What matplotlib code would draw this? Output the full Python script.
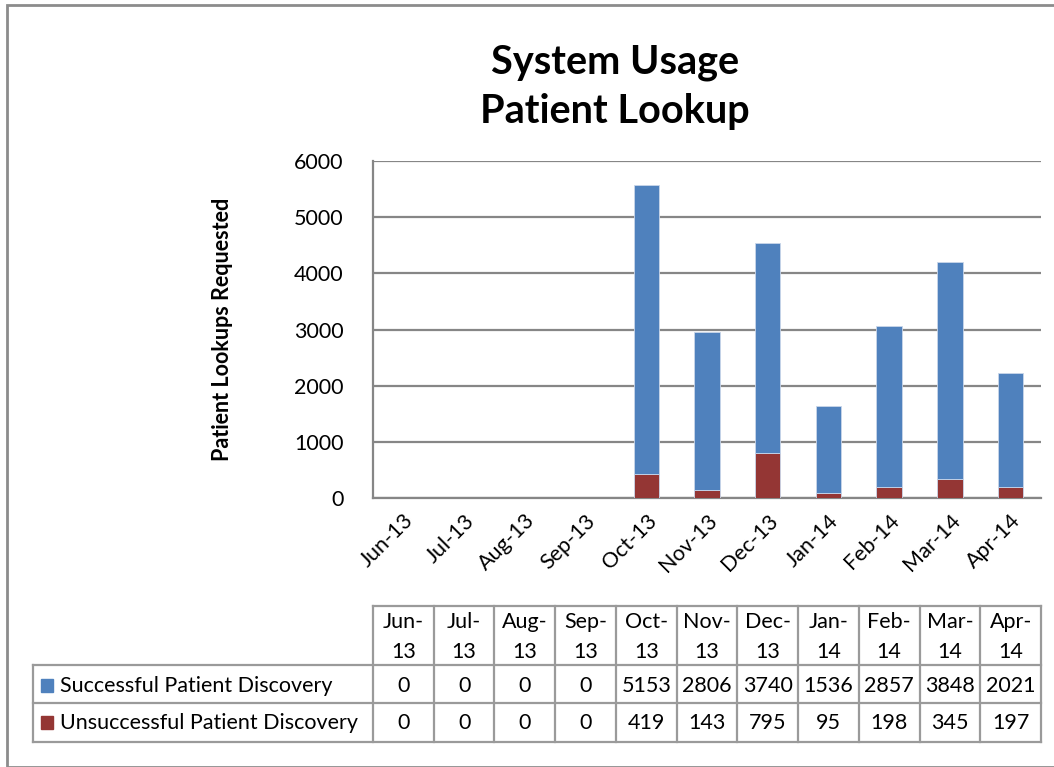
import numpy as np
import matplotlib
matplotlib.use("Agg")
import matplotlib.pyplot as plt
from matplotlib.patches import Rectangle
from matplotlib.lines import Line2D

plt.rcParams['font.family'] = ['Lato', 'DejaVu Sans']

months = ["Jun-13", "Jul-13", "Aug-13", "Sep-13", "Oct-13", "Nov-13",
          "Dec-13", "Jan-14", "Feb-14", "Mar-14", "Apr-14"]
successful = [0, 0, 0, 0, 5153, 2806, 3740, 1536, 2857, 3848, 2021]
unsuccessful = [0, 0, 0, 0, 419, 143, 795, 95, 198, 345, 197]
series_names = ["Successful Patient Discovery", "Unsuccessful Patient Discovery"]

blue = "#4F81BD"
red = "#943634"
grid = "#868686"

W, H = 1054, 767
fig = plt.figure(figsize=(W / 100, H / 100), dpi=100)

# outer chart frame
fig.patches.append(Rectangle((7 / W, 0), 1.2, 1 - 5 / H, transform=fig.transFigure,
                             fill=False, edgecolor="#8c8c8c", lw=2))

L, R, B, T = 373, 1041, 498, 161
ax = fig.add_axes([L / W, 1 - B / H, (R - L) / W, (B - T) / H])
x = np.arange(len(months))
ax.bar(x, unsuccessful, width=0.42, color=red, edgecolor="#c9d6ea", lw=0.6, zorder=3)
ax.bar(x, successful, width=0.42, bottom=unsuccessful, color=blue,
       edgecolor="#c9d6ea", lw=0.6, zorder=3)
ax.set_xlim(-0.5, len(months) - 0.5)
ax.set_ylim(0, 6000)
ax.set_yticks(range(0, 6001, 1000))
ax.yaxis.grid(True, color=grid, lw=1.6)
ax.set_axisbelow(True)
for s in ["top", "right"]:
    ax.spines[s].set_visible(False)
for s in ["left", "bottom"]:
    ax.spines[s].set_color(grid)
    ax.spines[s].set_linewidth(1.6)
ax.tick_params(length=0, labelsize=15.5, pad=21)
ax.tick_params(axis="x", pad=9)
ax.set_xticks(x)
ax.set_xticklabels(months, rotation=45, ha="right", rotation_mode="anchor")
ax.set_ylabel("Patient Lookups Requested", fontsize=15.5, fontweight="bold", labelpad=44)

fig.text(615 / W, 1 - 87 / H, "System Usage\nPatient Lookup", ha="center", va="center",
         fontsize=28.5, fontweight="bold", linespacing=1.4)

# data table under the chart, pixel coordinates
tab = fig.add_axes([0, 0, 1, 1], facecolor="none")
tab.set_xlim(0, W)
tab.set_ylim(H, 0)
tab.axis("off")
colw = (R - L) / len(months)
edges = [L + i * colw for i in range(len(months) + 1)]
ys = [606, 665, 703, 742]
lc = "#9a9a9a"
for e in edges:
    tab.add_line(Line2D([e, e], [ys[0], ys[3]], color=lc, lw=1.6))
tab.add_line(Line2D([33, 33], [ys[1], ys[3]], color=lc, lw=1.6))
tab.add_line(Line2D([L, R], [ys[0], ys[0]], color=lc, lw=1.6))
for yy in ys[1:]:
    tab.add_line(Line2D([33, R], [yy, yy], color=lc, lw=1.6))
fs = 15.5
for i, m in enumerate(months):
    cx = (edges[i] + edges[i + 1]) / 2
    a, b = m.split("-")
    tab.text(cx, 622, a + "-", ha="center", va="center", fontsize=fs)
    tab.text(cx, 652, b, ha="center", va="center", fontsize=fs)
    tab.text(cx, 686, str(successful[i]), ha="center", va="center", fontsize=fs)
    tab.text(cx, 723, str(unsuccessful[i]), ha="center", va="center", fontsize=fs)
for yy, name, c in [(686, series_names[0], blue), (723, series_names[1], red)]:
    tab.add_patch(Rectangle((41, yy - 7), 12, 13, color=c))
    tab.text(60, yy, name, ha="left", va="center", fontsize=fs)

fig.savefig("out.png", dpi=100)
